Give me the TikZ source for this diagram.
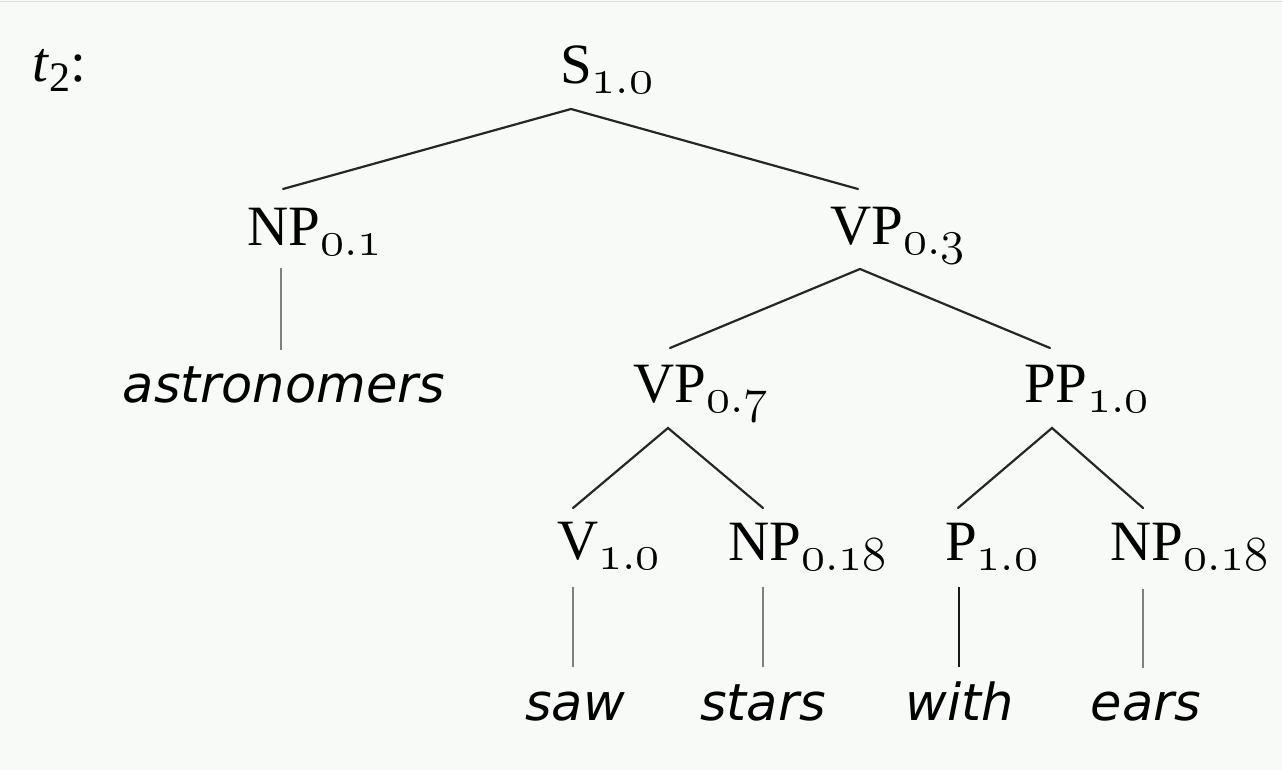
\RequirePackage{fix-cm}
\documentclass[tikz,border=0pt]{standalone}
\usepackage{fontspec}
\setmainfont{Liberation Serif}
\newfontfamily\wordfont{DejaVu Sans}

\definecolor{paper}{RGB}{248,250,248}
\definecolor{edge}{RGB}{222,222,222}

% category label with an old-style probability subscript
\newcommand\psub[1]{\raisebox{-10pt}{\fontsize{49}{52}\selectfont$\mathnormal{#1}$}}

\tikzset{
  lab/.style={anchor=base west, inner sep=0pt, font=\fontsize{57}{60}\selectfont},
  word/.style={anchor=base, inner sep=0pt, font=\wordfont\itshape\fontsize{51}{54}\selectfont},
  branch/.style={line width=2.2pt, black!85, line cap=round},
  leaf/.style={line width=2.2pt, black!50},
  leafdark/.style={line width=2.2pt, black!90},
}

\begin{document}
\begin{tikzpicture}[x=1pt, y=-1pt]
  \useasboundingbox (0,0) rectangle (1282,770);
  \fill[paper] (0,0) rectangle (1282,770);
  \draw[edge, line width=1.5pt] (0,1.5) -- (1282,1.5);

  % tree label
  \node[lab] (t2) at (32,82) {\textit{t}\raisebox{-10pt}{\fontsize{42}{44}\selectfont 2}:};

  % categories
  \node[lab] (S)   at (560,84)   {S\psub{1.0}};
  \node[lab] (NPa) at (247,245)  {NP\psub{0.1}};
  \node[lab] (VPa) at (830,244)  {VP\psub{0.3}};
  \node[lab] (VPb) at (633,402)  {VP\psub{0.7}};
  \node[lab] (PP)  at (1024,402) {PP\psub{1.0}};
  \node[lab] (V)   at (557,559)  {V\psub{1.0}};
  \node[lab] (NPb) at (728,560)  {NP\psub{0.18}};
  \node[lab] (P)   at (945,560)  {P\psub{1.0}};
  \node[lab] (NPc) at (1110,560) {NP\psub{0.18}};

  % words
  \node[word] (w1) at (284,402)  {astronomers};
  \node[word] (w2) at (575,720)  {saw};
  \node[word] (w3) at (763,720)  {stars};
  \node[word] (w4) at (960,720)  {with};
  \node[word] (w5) at (1146,720) {ears};

  % attachment points above and below each label
  \coordinate (S-b)   at ([shift={(11,25)}]S.base west);
  \coordinate (NPa-t) at ([shift={(36,-56)}]NPa.base west);
  \coordinate (NPa-b) at ([shift={(34,23)}]NPa.base west);
  \coordinate (VPa-t) at ([shift={(28,-55)}]VPa.base west);
  \coordinate (VPa-b) at ([shift={(30,25)}]VPa.base west);
  \coordinate (VPb-t) at ([shift={(37,-54)}]VPb.base west);
  \coordinate (VPb-b) at ([shift={(35,26)}]VPb.base west);
  \coordinate (PP-t)  at ([shift={(26,-54)}]PP.base west);
  \coordinate (PP-b)  at ([shift={(28,26)}]PP.base west);
  \coordinate (V-t)   at ([shift={(16,-51)}]V.base west);
  \coordinate (V-b)   at ([shift={(16,28)}]V.base west);
  \coordinate (NPb-t) at ([shift={(35,-52)}]NPb.base west);
  \coordinate (NPb-b) at ([shift={(35,27)}]NPb.base west);
  \coordinate (P-t)   at ([shift={(13,-52)}]P.base west);
  \coordinate (P-b)   at ([shift={(14,27)}]P.base west);
  \coordinate (NPc-t) at ([shift={(33,-52)}]NPc.base west);
  \coordinate (NPc-b) at ([shift={(33,29)}]NPc.base west);
  \coordinate (w1-t)  at ([shift={(-3,-52)}]w1.base);
  \coordinate (w2-t)  at ([shift={(-2,-53)}]w2.base);
  \coordinate (w3-t)  at ([shift={(0,-53)}]w3.base);
  \coordinate (w4-t)  at ([shift={(-1,-53)}]w4.base);
  \coordinate (w5-t)  at ([shift={(-3,-52)}]w5.base);

  % branches
  \draw[branch] (NPa-t) -- (S-b) -- (VPa-t);
  \draw[branch] (VPb-t) -- (VPa-b) -- (PP-t);
  \draw[branch] (V-t) -- (VPb-b) -- (NPb-t);
  \draw[branch] (P-t) -- (PP-b) -- (NPc-t);

  % lexical links
  \draw[leaf] (NPa-b) -- (w1-t);
  \draw[leaf] (V-b) -- (w2-t);
  \draw[leaf] (NPb-b) -- (w3-t);
  \draw[leafdark] (P-b) -- (w4-t);
  \draw[leaf] (NPc-b) -- (w5-t);
\end{tikzpicture}
\end{document}
